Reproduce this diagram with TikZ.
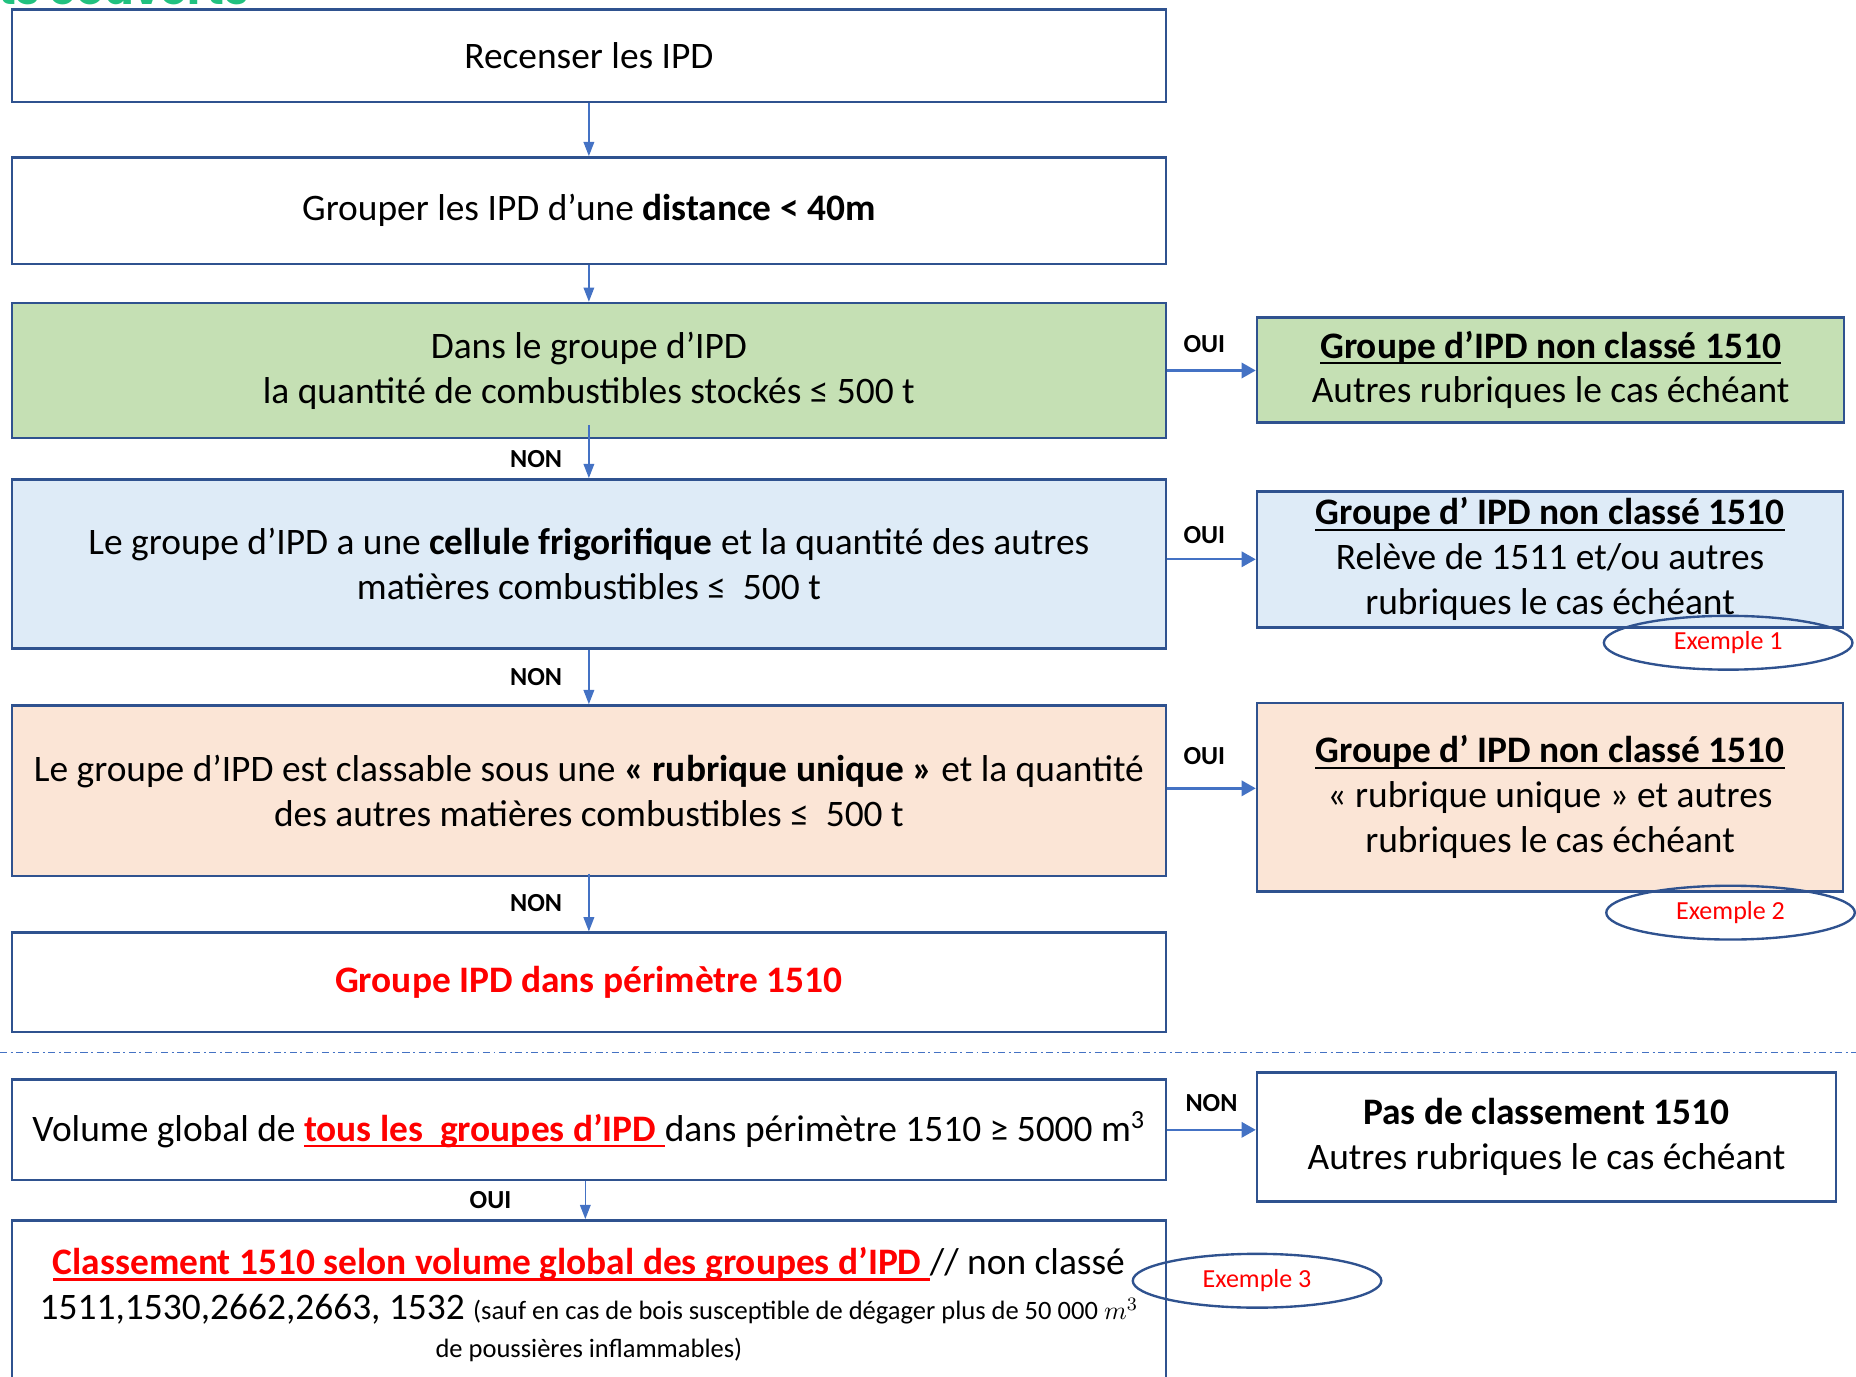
\documentclass[tikz,border=0pt]{standalone}
\usepackage{fontspec}
\setmainfont{Carlito}
\newfontfamily\titlefont{Poppins}
\usepackage{tikz}
\usetikzlibrary{arrows.meta,shapes.geometric}
\definecolor{bordure}{HTML}{2F528F}
\definecolor{fleche}{HTML}{4472C4}
\definecolor{vert}{HTML}{C5E0B4}
\definecolor{bleu}{HTML}{DEEBF7}
\definecolor{peche}{HTML}{FBE5D6}
\definecolor{titre}{HTML}{21C17F}
\definecolor{rouge}{HTML}{FF0000}
\newcommand\souligne[1]{\setbox0\hbox{#1}\rlap{\rule[-2.6pt]{\wd0}{0.9pt}}\box0}
\tikzset{
  boite/.style={draw=bordure, line width=1.1pt, align=center, inner sep=0pt, font=\fontsize{15.8}{19}\selectfont},
  gauche/.style={boite, minimum width=487.5pt},
  droite/.style={boite, minimum width=248pt},
  vfleche/.style={draw=fleche, line width=0.6pt, -{Triangle[length=6pt,width=4.5pt]}},
  hfleche/.style={draw=fleche, line width=1pt, -{Triangle[length=6pt,width=6.5pt]}},
  lbl/.style={inner sep=0pt, font=\fontsize{11}{13}\selectfont\bfseries},
  exemple/.style={ellipse, draw=bordure, line width=1pt, minimum width=105pt, minimum height=22pt, text=rouge, font=\fontsize{11}{13}\selectfont}
}
\begin{document}
\begin{tikzpicture}[x=0.5pt,y=-0.5pt]
\useasboundingbox (0,0) rectangle (1568,1163);
\node[anchor=base west, inner sep=0pt, text=titre, font=\titlefont\bfseries\fontsize{18.5}{22}\selectfont] (titre) at (-2,4) {ts couverts};

\node[gauche, minimum height=39pt] (recenser) at (497.5,47) {Recenser les IPD};
\node[gauche, minimum height=45pt] (grouper) at (497.5,178) {Grouper les IPD d’une \textbf{distance < 40m}};
\node[gauche, fill=vert, minimum height=57pt] (dans) at (497.5,313) {Dans le groupe d’IPD\\la quantité de combustibles stockés ≤ 500 t};
\node[gauche, fill=bleu, minimum height=71.5pt] (frigo) at (497.5,476.5) {Le groupe d’IPD a une \textbf{cellule frigorifique} et la quantité des autres\\matières combustibles ≤~ 500 t};
\node[gauche, fill=peche, minimum height=72pt] (unique) at (497.5,668) {Le groupe d’IPD est classable sous une \textbf{« rubrique unique »} et la quantité\\des autres matières combustibles ≤~ 500 t};
\node[gauche, minimum height=42pt, text=rouge] (perimetre) at (497.5,830) {\textbf{Groupe IPD dans périmètre 1510}};
\node[gauche, minimum height=42.5pt] (volume) at (497.5,954.5) {Volume global de {\color{rouge}\bfseries\souligne{tous les\ \ groupes d’IPD\ }}dans périmètre 1510 ≥ 5000 m\textsuperscript{3}};
\node[gauche, minimum height=71pt] (classement) at (497.5,1102) {{\color{rouge}\bfseries\souligne{Classement 1510 selon volume global des groupes d’IPD\ }}// non classé\\1511,1530,2662,2663, 1532 {\fontsize{11.2}{13}\selectfont(sauf en cas de bois susceptible de dégager plus de 50 000 $m^3$}\\[-3pt]{\fontsize{11.2}{13}\selectfont de poussières inflammables)}};

\node[droite, fill=vert, minimum height=44.5pt] (nonA) at (1310,312.5) {{\bfseries\souligne{Groupe d’IPD non classé 1510}}\\Autres rubriques le cas échéant};
\node[droite, fill=bleu, minimum height=57.5pt, minimum width=247.5pt] (nonB) at (1309.5,472.5) {{\bfseries\souligne{Groupe d’ IPD non classé 1510}}\\Relève de 1511 et/ou autres\\rubriques le cas échéant};
\node[droite, fill=peche, minimum height=79.5pt, minimum width=247.5pt] (nonC) at (1309.5,673.5) {{\bfseries\souligne{Groupe d’ IPD non classé 1510}}\\« rubrique unique » et autres\\rubriques le cas échéant};
\node[droite, minimum height=54.5pt, minimum width=244.5pt] (pasclasse) at (1306.5,960.5) {\textbf{Pas de classement 1510}\\Autres rubriques le cas échéant};

\node[exemple] (ex1) at (1460,543) {Exemple 1};
\node[exemple] (ex2) at (1462,771) {Exemple 2};
\node[exemple] (ex3) at (1062,1082) {Exemple 3};

\draw[vfleche] (recenser) -- (grouper);
\draw[vfleche] (grouper) -- (dans);
\draw[vfleche] ([yshift=6pt]dans.south) -- node[lbl, left=11pt, yshift=-3pt] {NON} (frigo);
\draw[vfleche] (frigo) -- node[lbl, left=11pt] {NON} (unique);
\draw[vfleche] ([yshift=1.5pt]unique.south) -- node[lbl, left=11pt] {NON} (perimetre);
\draw[vfleche] ([xshift=-1.5pt]volume.south) -- node[lbl, left=31pt] {OUI} ([xshift=-1.5pt]classement.north);

\draw[hfleche] (dans.east) -- node[lbl, above=7pt, xshift=-3pt] {OUI} (dans.east -| nonA.west);
\draw[hfleche] (nonB.west -| frigo.east) -- node[lbl, above=6pt, xshift=-3pt] {OUI} (nonB.west);
\draw[hfleche] ([yshift=1pt]unique.east) -- node[lbl, above=9.5pt, xshift=-3pt] {OUI} ([yshift=1pt]unique.east -| nonC.west);
\draw[hfleche] (volume.east) -- node[lbl, above=7pt] {NON} (volume.east -| pasclasse.west);

\draw[fleche, line width=0.5pt, dash pattern=on 3pt off 1.5pt on 0.8pt off 1.5pt] (0,889) -- (1568,889);
\end{tikzpicture}
\end{document}
